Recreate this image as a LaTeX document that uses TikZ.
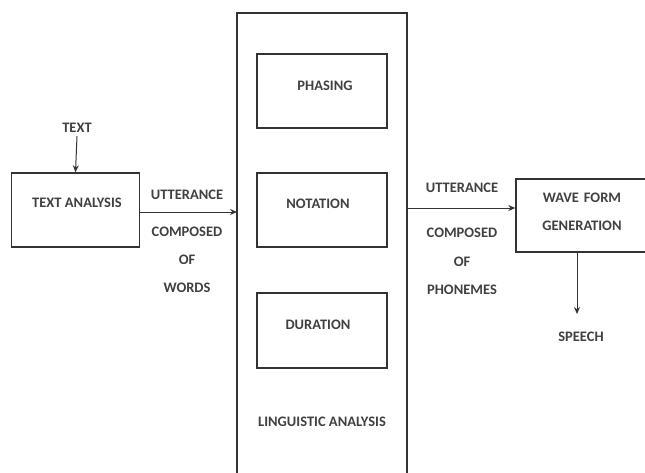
\documentclass[tikz,border=0pt]{standalone}
\usepackage{fontspec}
\setmainfont{Carlito}
\usetikzlibrary{arrows.meta}

\tikzset{
  blk/.style={draw=black!80, line width=1.4pt, inner sep=0pt},
  lbl/.style={font=\fontsize{14.5}{17.5}\selectfont\bfseries, text=black!75},
  arr/.style={-{Stealth[length=7pt,width=6pt]}, line width=1pt, draw=black!80}
}

\begin{document}
\begin{tikzpicture}[x=1pt, y=-1pt]
    \useasboundingbox (0,0) rectangle (645,472);
    % boxes
    \node[blk, minimum width=128pt, minimum height=74pt] (ta) at (75.5,210) {};
    \node[lbl] at (77,203) {TEXT ANALYSIS};
    \draw[blk] (237,13) rectangle (407,480);
    \coordinate (laL) at (237,212);
    \coordinate (laR) at (407,208);
    \node[blk, minimum width=130pt, minimum height=74pt] (ph) at (322,91) {};
    \node[lbl] at (325,86) {PHASING};
    \node[blk, minimum width=130pt, minimum height=74pt] (no) at (322,210) {};
    \node[lbl] at (318,204) {NOTATION};
    \node[blk, minimum width=130pt, minimum height=75pt] (du) at (322,330.5) {};
    \node[lbl] at (318,325) {DURATION};
    \node[lbl] (la) at (322,422) {LINGUISTIC ANALYSIS};
    \node[blk, minimum width=130pt, minimum height=73pt] (wf) at (581,215.5) {};
    \node[lbl, align=center, text width=110pt] at (582,212) {WAVE FORM\\[10.5pt]GENERATION};
    % texts
    \node[lbl] (txt) at (77,128) {TEXT};
    \node[lbl] (sp) at (581,337) {SPEECH};
    \coordinate (spt) at (577,314);
    \node[lbl, align=center] (w1) at (187,241.5) {UTTERANCE\\[19.5pt]COMPOSED\\[10.5pt]OF\\[10.5pt]WORDS};
    \node[lbl, align=center] (w2) at (462,239) {UTTERANCE\\[27.5pt]COMPOSED\\[11.5pt]OF\\[10.5pt]PHONEMES};
    % arrows
    \draw[arr] (txt.south) -- (ta.north);
    \draw[arr] (ta.east |- laL) -- (laL);
    \draw[arr] (laR) -- (wf.west |- laR);
    \draw[arr] (wf.south -| spt) -- (spt);
\end{tikzpicture}
\end{document}
